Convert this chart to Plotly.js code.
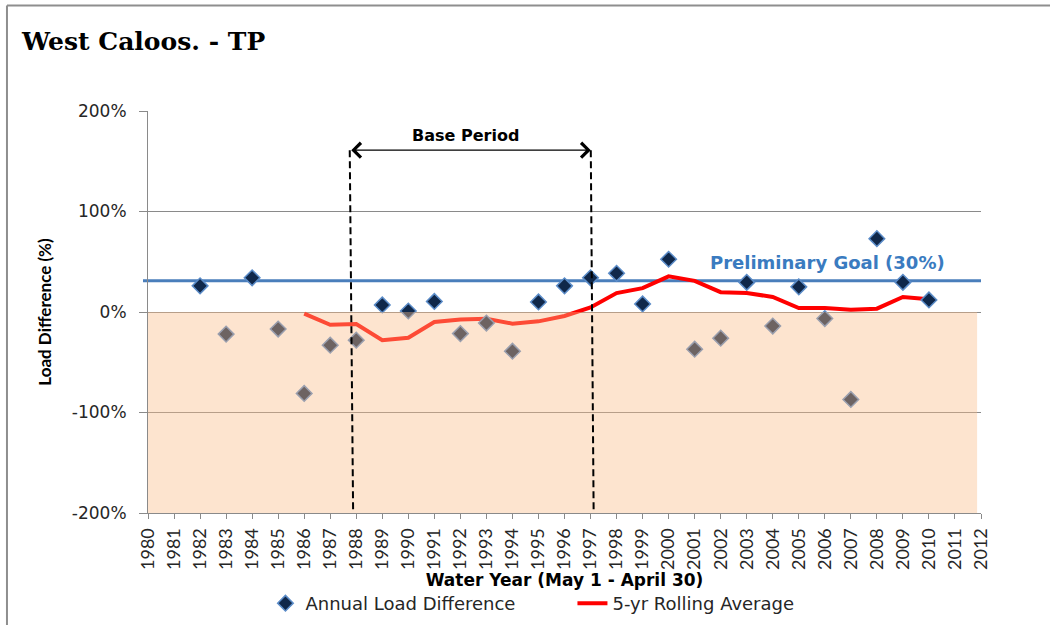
<!DOCTYPE html>
<html>
<head>
<meta charset="utf-8">
<script src="https://cdn.plot.ly/plotly-3.0.1.min.js"></script>
<style>html,body{margin:0;padding:0;background:#fff;overflow:hidden;}#chart{width:1050px;height:625px;}</style>
</head>
<body>
<div id="chart"></div>
<script>
// ---- data ----
const xTickYears = [1980,1981,1982,1983,1984,1985,1986,1987,1988,1989,1990,1991,1992,1993,1994,1995,1996,1997,1998,1999,2000,2001,2002,2003,2004,2005,2006,2007,2008,2009,2010,2011,2012];
const yTickVals = [200, 100, 0, -100, -200];
const yTickText = ['200%', '100%', '0%', '-100%', '-200%'];

const annualYears = [1982,1983,1984,1985,1986,1987,1988,1989,1990,1991,1992,1993,1994,1995,1996,1997,1998,1999,2000,2001,2002,2003,2004,2005,2006,2007,2008,2009,2010];
const annualLoadDiff = [26,-22,34,-17,-81,-33,-28,7,1,10.5,-21.5,-11,-39,10,26,34,38.5,8,52.5,-37,-26,29.5,-14,25,-6.5,-87,73,29.5,12];

const rollYears = [1986,1987,1988,1989,1990,1991,1992,1993,1994,1995,1996,1997,1998,1999,2000,2001,2002,2003,2004,2005,2006,2007,2008,2009,2010];
const rollingAvg = [-1.7,-12.7,-12,-28,-25.7,-10,-7.5,-6.8,-11.6,-9.3,-4,4.5,18.8,23.7,35.5,31,19.7,18.8,15,3.9,3.9,2.3,3.3,15,12.8];

const goalValue = 31;          // drawn position of the 30% goal line
const goalLabel = 'Preliminary Goal (30%)';
const basePeriodStart = 1987.8;
const basePeriodEnd = 1997.05;
const basePeriodLabel = 'Base Period';

// ---- traces ----
const rollTrace = {
  x: rollYears, y: rollingAvg, type: 'scatter', mode: 'lines',
  name: '5-yr Rolling Average',
  line: {color: '#FF0000', width: 4},
  legendrank: 2, hoverinfo: 'skip'
};
const annualTrace = {
  x: annualYears, y: annualLoadDiff, type: 'scatter', mode: 'markers',
  name: 'Annual Load Difference',
  marker: {symbol: 'diamond', size: 12, color: '#10284A', line: {color: '#5B8CC8', width: 1.5}},
  legendrank: 1, hoverinfo: 'skip'
};

const gridCol = '#8A8A8A';
const sansFont = 'DejaVu Sans';

const layout = {
  width: 1050, height: 625,
  margin: {l: 148, r: 69, t: 111, b: 112, autoexpand: false},
  paper_bgcolor: '#ffffff', plot_bgcolor: '#ffffff',
  showlegend: true,
  title: {
    text: 'West Caloos. - TP',
    x: 22/1050, xanchor: 'left', xref: 'container',
    y: 1 - 41/625, yanchor: 'middle', yref: 'container',
    font: {family: 'DejaVu Serif', size: 25, color: '#000000', weight: 'bold'}
  },
  xaxis: {
    range: [1980, 2012], tickmode: 'array', tickvals: xTickYears,
    ticktext: xTickYears.map(String), tickangle: -90,
    ticks: 'outside', ticklen: 5, tickcolor: gridCol, tickwidth: 1,
    showline: true, linecolor: gridCol, linewidth: 1,
    showgrid: false, zeroline: false, automargin: false,
    tickfont: {family: 'Lato', size: 18, color: '#262626'},
    ticklabelstandoff: 2,
    title: {text: 'Water Year (May 1 - April 30)', standoff: 4,
      font: {family: sansFont, size: 17, color: '#000000', weight: 'bold'}},
    fixedrange: true
  },
  yaxis: {
    range: [-200, 200], tickmode: 'array', tickvals: yTickVals, ticktext: yTickText,
    ticks: 'outside', ticklen: 8, tickcolor: gridCol, tickwidth: 1,
    showline: true, linecolor: gridCol, linewidth: 1,
    showgrid: true, gridcolor: gridCol, gridwidth: 1, zeroline: false, automargin: false,
    tickfont: {family: sansFont, size: 17, color: '#262626'},
    ticklabelstandoff: 9,
    title: {text: 'Load Difference (%)', standoff: 15,
      font: {family: 'Lato', size: 17, color: '#000000', weight: 'bold'}},
    fixedrange: true
  },
  legend: {
    orientation: 'h', x: 0.141, xanchor: 'left', y: -0.225, yanchor: 'middle',
    font: {family: sansFont, size: 18, color: '#262626'},
    bgcolor: 'rgba(0,0,0,0)', itemwidth: 30, entrywidth: 262, entrywidthmode: 'pixels'
  },
  shapes: [
    // chart frame (top & left edges visible in the crop)
    {type: 'line', xref: 'paper', yref: 'paper', x0: -0.1693, x1: 1.2, y0: 1.2625, y1: 1.2625,
     line: {color: '#8E8E8E', width: 2}, layer: 'below'},
    {type: 'line', xref: 'paper', yref: 'paper', x0: -0.1693, x1: -0.1693, y0: 1.2625, y1: -0.5,
     line: {color: '#8E8E8E', width: 2}, layer: 'below'},
    // goal line
    {type: 'line', xref: 'paper', yref: 'y', x0: -0.006, x1: 1, y0: goalValue, y1: goalValue,
     line: {color: '#4A7EBB', width: 3}, layer: 'below'},
    // translucent shading below zero (drawn over data)
    {type: 'rect', xref: 'x', yref: 'y', x0: 1980, x1: 2011.85, y0: -200, y1: 0,
     fillcolor: 'rgba(250,188,136,0.40)', line: {width: 0}, layer: 'above'},
    // base period dashed boundaries
    {type: 'line', xref: 'x', yref: 'y', x0: basePeriodStart - 0.05, x1: basePeriodStart + 0.08, y0: 161, y1: -200,
     line: {color: '#000000', width: 2, dash: '7px,4px'}, layer: 'above'},
    {type: 'line', xref: 'x', yref: 'y', x0: basePeriodEnd - 0.04, x1: basePeriodEnd + 0.07, y0: 161, y1: -200,
     line: {color: '#000000', width: 2, dash: '7px,4px'}, layer: 'above'}
  ],
  annotations: [
    {xref: 'x', yref: 'y', x: basePeriodEnd - 0.04, y: 161, axref: 'x', ayref: 'y', ax: basePeriodStart - 0.05, ay: 161,
     text: '', showarrow: true, arrowside: 'end+start', arrowhead: 4, startarrowhead: 4,
     arrowsize: 2.2, startarrowsize: 2.2, arrowwidth: 1.3, arrowcolor: '#000000', standoff: 0, startstandoff: 0},
    {xref: 'x', yref: 'y', x: 1992.2, y: 176, text: basePeriodLabel, showarrow: false,
     font: {family: sansFont, size: 16, color: '#000000', weight: 'bold'}},
    {xref: 'x', yref: 'y', x: 2006.1, y: 49, text: goalLabel, showarrow: false,
     font: {family: sansFont, size: 18, color: '#3A7BC0', weight: 'bold'}}
  ]
};

Plotly.newPlot('chart', [rollTrace, annualTrace], layout, {displayModeBar: false, staticPlot: true});
</script>
</body>
</html>
